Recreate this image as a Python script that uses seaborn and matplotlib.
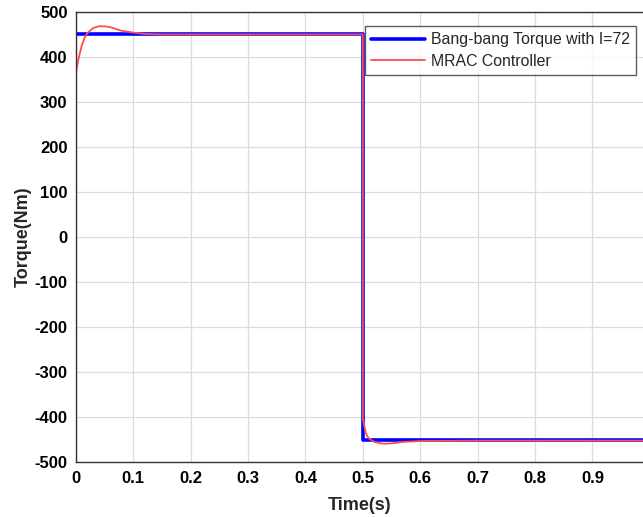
import matplotlib
matplotlib.use("Agg")
import matplotlib.pyplot as plt
import seaborn as sns
import pandas as pd

# Bang-bang torque reference
bang_time = [0.0, 0.5, 0.5, 0.988]
bang_torque = [450, 450, -450, -450]

# MRAC controller response
mrac_time = [0.0, 0.005, 0.01, 0.015, 0.02, 0.03, 0.04, 0.05, 0.06, 0.07, 0.08,
             0.1, 0.12, 0.15, 0.2, 0.3, 0.4, 0.5, 0.5001, 0.505, 0.51, 0.52,
             0.53, 0.54, 0.55, 0.57, 0.6, 0.7, 0.8, 0.988]
mrac_torque = [365, 398, 424, 442, 453, 464, 468, 468, 466, 462, 458,
               454, 451, 450, 450, 450, 450, 450, -405, -435, -447, -455,
               -458, -459, -458, -455, -453, -452, -452, -452]

x_ticks = [0, 0.1, 0.2, 0.3, 0.4, 0.5, 0.6, 0.7, 0.8, 0.9]
x_tick_labels = ["0", "0.1", "0.2", "0.3", "0.4", "0.5", "0.6", "0.7", "0.8", "0.9"]
y_ticks = [-500, -400, -300, -200, -100, 0, 100, 200, 300, 400, 500]

sns.set_style("white")
plt.rcParams["font.family"] = ["Liberation Sans Narrow", "Liberation Sans", "DejaVu Sans"]
plt.rcParams["axes.unicode_minus"] = False

fig = plt.figure(figsize=(6.43, 5.17), dpi=100)
ax = fig.add_axes([0.118, 0.106, 0.882, 0.871])

df_bang = pd.DataFrame({"Time": bang_time, "Torque": bang_torque})
df_mrac = pd.DataFrame({"Time": mrac_time, "Torque": mrac_torque})

sns.lineplot(data=df_bang, x="Time", y="Torque", ax=ax, color="#0000ff",
             linewidth=2.6, label="Bang-bang Torque with I=72", sort=False,
             estimator=None)
sns.lineplot(data=df_mrac, x="Time", y="Torque", ax=ax, color="#ff4d4d",
             linewidth=1.3, label="MRAC Controller", sort=False, estimator=None)

ax.set_xlim(0, 0.988)
ax.set_ylim(-500, 500)
ax.set_xticks(x_ticks)
ax.set_xticklabels(x_tick_labels)
ax.set_yticks(y_ticks)
ax.grid(True, color="#dcdcdc", linewidth=0.9)
ax.tick_params(direction="in", length=4, width=1, colors="#333333",
               labelsize=12, pad=6)
for lab in ax.get_xticklabels() + ax.get_yticklabels():
    lab.set_fontweight("bold")
    lab.set_color("black")
for side in ["left", "bottom", "top"]:
    ax.spines[side].set_color("#333333")
    ax.spines[side].set_linewidth(1.0)
ax.spines["right"].set_visible(False)

ax.set_xlabel("Time(s)", fontsize=13, fontweight="bold", labelpad=8)
ax.set_ylabel("Torque(Nm)", fontsize=13, fontweight="bold", labelpad=2)

leg = ax.legend(loc="upper right", bbox_to_anchor=(0.988, 0.969),
                frameon=True, fancybox=False, edgecolor="#333333",
                handlelength=3.4, borderpad=0.4, labelspacing=0.4,
                handletextpad=0.35, borderaxespad=0,
                prop={"family": ["Liberation Sans", "DejaVu Sans"], "size": 11.4})
leg.get_frame().set_linewidth(1.0)

fig.savefig("out.png", dpi=100)
